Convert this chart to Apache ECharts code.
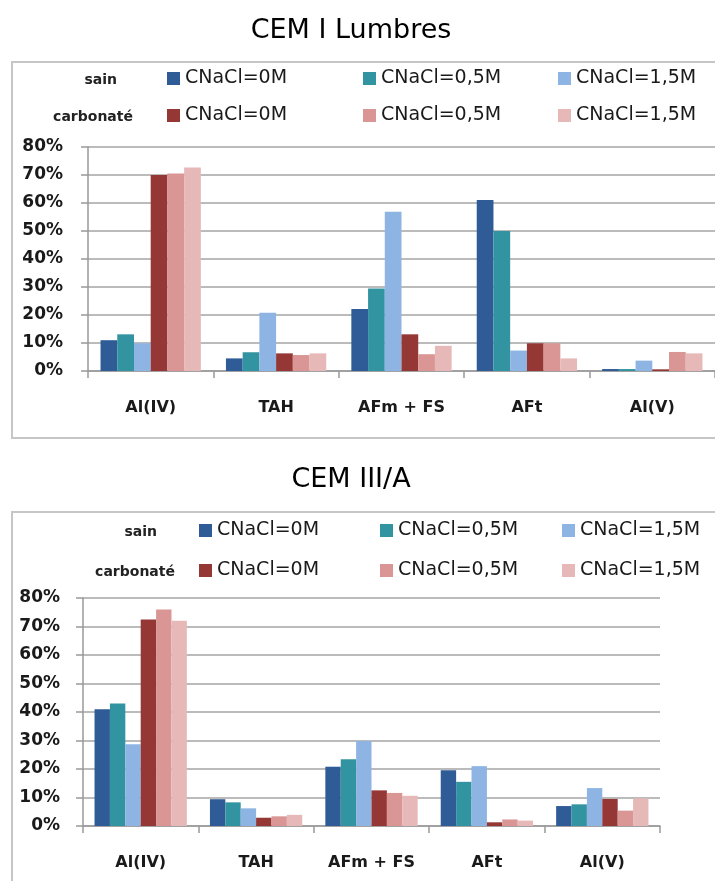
<!DOCTYPE html>
<html>
<head>
<meta charset="utf-8">
<script src="https://cdn.jsdelivr.net/npm/echarts@6/dist/echarts.min.js"></script>
<style>
  html, body { margin: 0; padding: 0; background: #fff; }
  #chart { width: 715px; height: 881px; }
</style>
</head>
<body>
<div id="chart"></div>
<script>
// categories and values (%)
var categories = ['Al(IV)', 'TAH', 'AFm + FS', 'AFt', 'Al(V)'];
var concentrations = ['CNaCl=0M', 'CNaCl=0,5M', 'CNaCl=1,5M'];
var states = ['sain', 'carbonaté'];
var titles = ['CEM I Lumbres', 'CEM III/A'];

// CEM I Lumbres
var cem1Sain0 = [11, 4.5, 22.1, 61.1, 0.7];
var cem1Sain05 = [13.1, 6.7, 29.5, 50, 0.7];
var cem1Sain15 = [9.9, 20.8, 56.9, 7.3, 3.7];
var cem1Carb0 = [70, 6.3, 13.1, 9.9, 0.6];
var cem1Carb05 = [70.5, 5.7, 6.0, 9.9, 6.8];
var cem1Carb15 = [72.7, 6.3, 9.0, 4.5, 6.3];

// CEM III/A
var cem3Sain0 = [41, 9.4, 20.8, 19.6, 7.0];
var cem3Sain05 = [43, 8.3, 23.4, 15.5, 7.6];
var cem3Sain15 = [28.7, 6.2, 29.8, 21, 13.3];
var cem3Carb0 = [72.5, 2.9, 12.5, 1.3, 9.5];
var cem3Carb05 = [76, 3.4, 11.6, 2.3, 5.4];
var cem3Carb15 = [72, 3.9, 10.6, 1.9, 9.7];

var colors = ['#2f5b96', '#3394a1', '#8db4e3', '#953735', '#d99694', '#e6b9b8'];

var chartData = [
    [cem1Sain0, cem1Sain05, cem1Sain15, cem1Carb0, cem1Carb05, cem1Carb15],
    [cem3Sain0, cem3Sain05, cem3Sain15, cem3Carb0, cem3Carb05, cem3Carb15]
];

// layout of each panel
var panels = [
    { titleTop: 12, frameTop: 62, frameBottom: 438, gridLeft: 88, gridTop: 147, gridW: 631, gridH: 224,
      labelMargin: 25, legendX: [167, 363, 558], rowY: [80, 117], labelRight: [117, 133] },
    { titleTop: 461, frameTop: 512, frameBottom: 900, gridLeft: 83, gridTop: 598, gridW: 577, gridH: 228,
      labelMargin: 23, legendX: [199, 380, 562], rowY: [532, 572], labelRight: [157, 175] }
];

var font = 'DejaVu Sans';
var option = {
    backgroundColor: '#fff',
    animation: false,
    title: [], grid: [], xAxis: [], yAxis: [], series: [], legend: [], graphic: []
};

for (var p = 0; p < panels.length; p++) {
    var pn = panels[p];
    option.title.push({
        text: titles[p], left: 346, top: pn.titleTop, textAlign: 'center',
        textStyle: { fontFamily: font, fontSize: 27, fontWeight: 'normal', color: '#000' }
    });
    option.graphic.push({
        type: 'rect', silent: true, z: -1,
        shape: { x: 12, y: pn.frameTop, width: 720, height: pn.frameBottom - pn.frameTop },
        style: { fill: '#fff', stroke: '#c6c6c6', lineWidth: 2 }
    });
    option.grid.push({ left: pn.gridLeft, top: pn.gridTop, width: pn.gridW, height: pn.gridH });
    option.xAxis.push({
        type: 'category', gridIndex: p, data: categories,
        axisLine: { lineStyle: { color: '#999', width: 1.5 } },
        axisTick: { show: true, length: 7, lineStyle: { color: '#999', width: 1.5 } },
        axisLabel: { margin: 29, fontFamily: font, fontSize: 16, fontWeight: 'bold', color: '#1a1a1a' }
    });
    option.yAxis.push({
        type: 'value', gridIndex: p, min: 0, max: 80, interval: 10,
        axisLine: { show: true, lineStyle: { color: '#999', width: 1.5 } },
        axisTick: { show: true, length: 7, lineStyle: { color: '#999', width: 1.5 } },
        splitLine: { lineStyle: { color: '#a5a5a5', width: 1.5 } },
        axisLabel: { formatter: '{value}%', margin: pn.labelMargin, fontFamily: font, fontSize: 17, fontWeight: 'bold', color: '#1a1a1a' }
    });
    for (var s = 0; s < 6; s++) {
        var name = titles[p] + '|' + states[Math.floor(s / 3)] + '|' + concentrations[s % 3];
        option.series.push({
            type: 'bar', name: name, xAxisIndex: p, yAxisIndex: p,
            data: chartData[p][s], barGap: 0, barCategoryGap: '20%',
            itemStyle: { color: colors[s] }
        });
        option.legend.push({
            data: [name], left: pn.legendX[s % 3], top: pn.rowY[Math.floor(s / 3)] - 11,
            itemWidth: 13, itemHeight: 13, icon: 'rect', itemGap: 0, padding: 0,
            formatter: function (n) { return n.split('|')[2]; },
            textStyle: { fontFamily: font, fontSize: 19, color: '#1a1a1a' }
        });
    }
    for (var r = 0; r < 2; r++) {
        option.graphic.push({
            type: 'text', silent: true,
            x: pn.labelRight[r], y: pn.rowY[r],
            style: { text: states[r], textAlign: 'right', textVerticalAlign: 'middle',
                     font: 'bold 14px "DejaVu Sans"', fill: '#222' }
        });
    }
}

var myChart = echarts.init(document.getElementById('chart'));
myChart.setOption(option);
</script>
</body>
</html>
